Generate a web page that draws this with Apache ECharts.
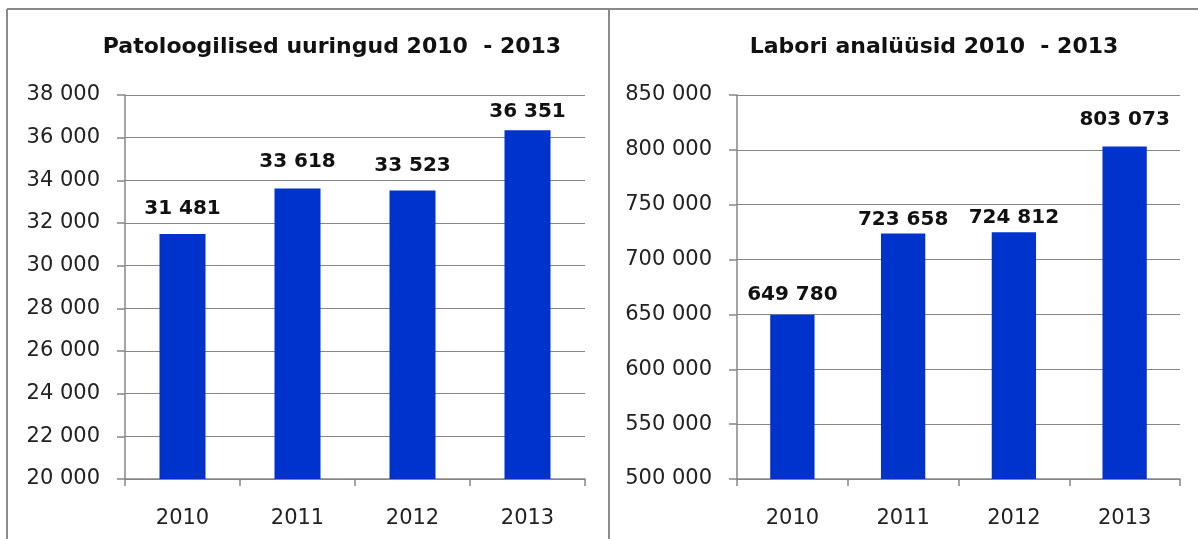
<!DOCTYPE html>
<html>
<head>
<meta charset="utf-8">
<script src="https://cdn.jsdelivr.net/npm/echarts@6/dist/echarts.min.js"></script>
<style>
html,body{margin:0;padding:0;background:#fff;}
#chart{width:1198px;height:539px;}
</style>
</head>
<body>
<div id="chart"></div>
<script>
// andmed
var years = ['2010', '2011', '2012', '2013'];
var patoloogia = [31481, 33618, 33523, 36351];
var labor = [649780, 723658, 724812, 803073];
var leftTitle = 'Patoloogilised uuringud 2010  - 2013';
var rightTitle = 'Labori analüüsid 2010  - 2013';

// siltide kaugus tulba otsast (px), nagu originaalis
var leftLift = [15, 17, 15, 8];
var rightLift = [10, 4, 5, 17];

function fmt(v) {
    return String(v).replace(/\B(?=(\d{3})+(?!\d))/g, ' ');
}

var gridColor = '#868686';
var numFont = '"DejaVu Sans", Verdana, sans-serif';

function xAx(idx) {
    return {
        type: 'category', gridIndex: idx, data: years,
        boundaryGap: true,
        axisLine: {lineStyle: {color: gridColor, width: 1.5}},
        axisTick: {show: true, length: 7, lineStyle: {color: gridColor, width: 1.5}},
        axisLabel: {margin: 29, fontSize: 21, color: '#222', fontFamily: numFont}
    };
}
function yAx(idx, min, max, step) {
    return {
        type: 'value', gridIndex: idx, min: min, max: max, interval: step,
        axisLine: {show: true, lineStyle: {color: gridColor, width: 1.5}},
        axisTick: {show: true, length: 8, inside: false, lineStyle: {color: gridColor, width: 1.5}},
        splitLine: {lineStyle: {color: gridColor, width: 1.2}},
        axisLabel: {margin: 25, fontSize: 21, color: '#222', fontFamily: numFont, formatter: fmt}
    };
}
function bars(idx, data, lift) {
    return {
        type: 'bar', xAxisIndex: idx, yAxisIndex: idx,
        data: data.map(function (v, i) { return {value: v, label: {distance: lift[i]}}; }),
        barWidth: '40%',
        itemStyle: {color: '#0033cc'},
        label: {
            show: true, position: 'top',
            fontSize: 20, fontWeight: 'bold', color: '#111', fontFamily: numFont,
            formatter: function (p) { return fmt(p.value); }
        }
    };
}

var titleStyle = {fontSize: 22, fontWeight: 'bold', color: '#111', fontFamily: '"DejaVu Sans", Verdana, sans-serif'};

var myChart = echarts.init(document.getElementById('chart'));
var option = {
    animation: false,
    title: [
        {text: leftTitle, left: 327, top: 31, textAlign: 'center', textStyle: titleStyle},
        {text: rightTitle, left: 929, top: 31, textAlign: 'center', textStyle: titleStyle}
    ],
    graphic: [
        {type: 'line', shape: {x1: 7, y1: 9, x2: 1198, y2: 9}, style: {stroke: '#8a8a8a', lineWidth: 2}},
        {type: 'line', shape: {x1: 7, y1: 9, x2: 7, y2: 539}, style: {stroke: '#8a8a8a', lineWidth: 2}},
        {type: 'line', shape: {x1: 609, y1: 9, x2: 609, y2: 539}, style: {stroke: '#8a8a8a', lineWidth: 2}}
    ],
    grid: [
        {left: 125, width: 460, top: 95, bottom: 60, containLabel: false},
        {left: 737, width: 443, top: 95, bottom: 60, containLabel: false}
    ],
    xAxis: [xAx(0), xAx(1)],
    yAxis: [yAx(0, 20000, 38000, 2000), yAx(1, 500000, 850000, 50000)],
    series: [bars(0, patoloogia, leftLift), bars(1, labor, rightLift)]
};
myChart.setOption(option);
</script>
</body>
</html>
